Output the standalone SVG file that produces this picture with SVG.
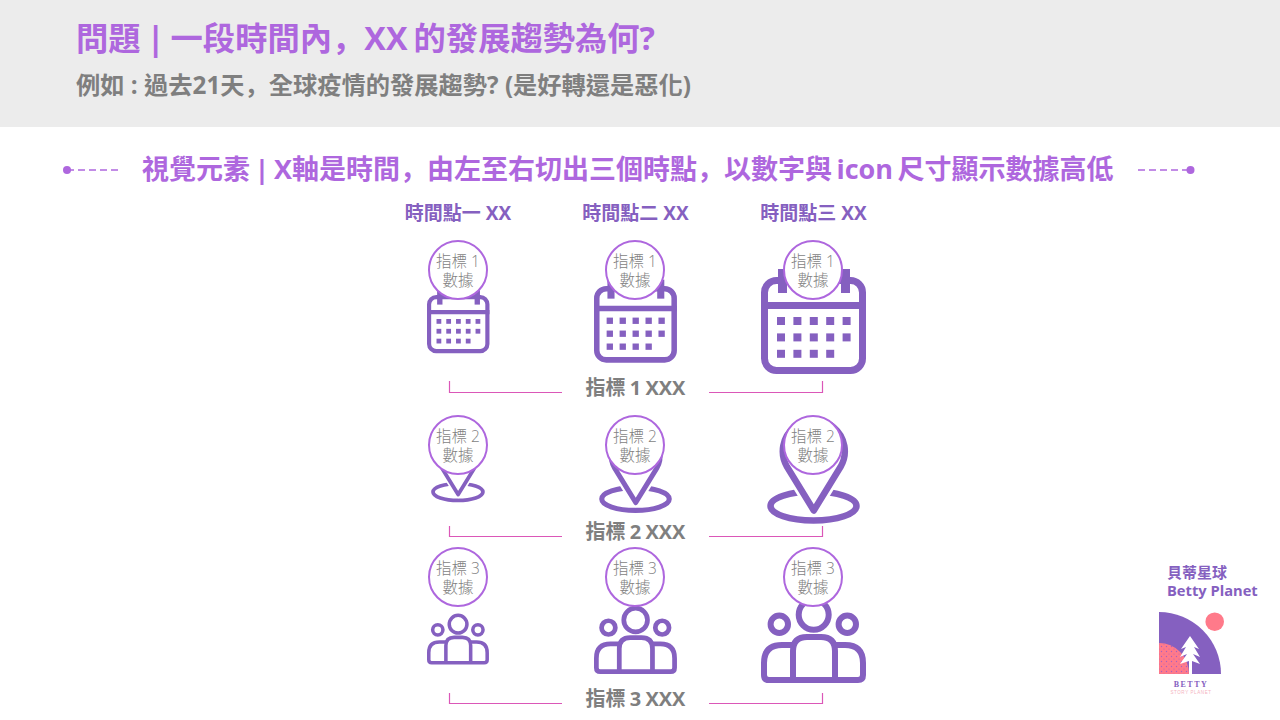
<svg xmlns="http://www.w3.org/2000/svg" width="1280" height="720" viewBox="0 0 1280 720">
<style>
text{font-family:"Open Sans","Noto Sans CJK TC",sans-serif}
.sc{font-family:"Noto Sans CJK SC",sans-serif}
.b{font-weight:700}
.tp{fill:#AE67DE}
.dp{fill:#8560C0}
.g{fill:#7F7F7F}
.hd{font-size:19px;font-weight:700;fill:#8560C0;text-anchor:middle}
.rl{font-size:20px;font-weight:700;fill:#7F7F7F;text-anchor:middle;word-spacing:-1px}
.cv{font-size:15.500px;font-weight:300;fill:#7F7F7F;text-anchor:middle}
.bub{fill:#fff;stroke:#AE67DE;stroke-width:2}
.ic{fill:none;stroke:#8560C0;stroke-width:7}
.sq{fill:#8560C0}
.br{fill:none;stroke:#DB57B8;stroke-width:1.2}
.dl{fill:none;stroke:#AE67DE;stroke-width:1.5;stroke-dasharray:7 4}
</style>
<defs>
<pattern id="dots" width="5" height="5" patternUnits="userSpaceOnUse"><circle cx="1.500" cy="1.500" r=".7" fill="#A85FC0"/><circle cx="4" cy="4" r=".5" fill="#A85FC0"/></pattern>
<g id="cal">
<rect x="3.500" y="3.500" width="98" height="90" rx="12" class="ic"/>
<path d="M0 28.500H105" class="ic"/>
<rect x="17" y="-8" width="9" height="24" class="sq"/><rect x="80" y="-8" width="9" height="24" class="sq"/>
<g class="sq">
<rect x="16" y="40" width="8" height="8"/><rect x="32.400" y="40" width="8" height="8"/><rect x="48.800" y="40" width="8" height="8"/><rect x="65.200" y="40" width="8" height="8"/><rect x="81.600" y="40" width="8" height="8"/>
<rect x="16" y="56.400" width="8" height="8"/><rect x="32.400" y="56.400" width="8" height="8"/><rect x="48.800" y="56.400" width="8" height="8"/><rect x="65.200" y="56.400" width="8" height="8"/><rect x="81.600" y="56.400" width="8" height="8"/>
<rect x="16" y="72.800" width="8" height="8"/><rect x="32.400" y="72.800" width="8" height="8"/><rect x="48.800" y="72.800" width="8" height="8"/><rect x="65.200" y="72.800" width="8" height="8"/>
</g>
</g>
<g id="pin">
<ellipse cx="46.500" cy="0" rx="43" ry="14.500" fill="none" stroke="#8560C0" stroke-width="6.500"/>
<path d="M46.800 4.500L20 -39.200A31 31 0 1 1 73.600 -39.200Z" fill="#fff" stroke="#fff" stroke-width="12" stroke-linejoin="round"/>
<path d="M46.800 4.500L20 -39.200A31 31 0 1 1 73.600 -39.200Z" fill="#fff" stroke="#8560C0" stroke-width="6.500" stroke-linejoin="round"/>
</g>
<g id="ppl" fill="none" stroke="#8560C0" stroke-width="6">
<circle cx="52.700" cy="-68.300" r="15"/>
<circle cx="18.300" cy="-58.700" r="8.700"/><circle cx="86.300" cy="-58.700" r="8.700"/>
<path d="M32 -38H21Q3 -38 3 -20V-8Q3 -3 8 -3H97Q102 -3 102 -8V-20Q102 -38 84 -38H74"/>
<path d="M32 -3V-32Q32 -46 46 -46H60Q74 -46 74 -32V-3"/>
</g>
</defs>

<rect id="banner" x="0" y="0" width="1280" height="127" fill="#ECECEC"/>
<text x="76" y="50" class="b tp" font-size="32.300" word-spacing="-2.300">問題 | 一段時間內<tspan class="sc">，</tspan>XX 的發展趨勢為何?</text>
<text x="76" y="94" class="b g" font-size="24.250">例如 : 過去21天<tspan class="sc">，</tspan>全球疫情的發展趨勢? (是好轉還是惡化)</text>
<text x="142" y="179" class="b tp" font-size="27" word-spacing="-2.500">視覺元素 | X軸是時間<tspan class="sc">，</tspan>由左至右切出三個時點<tspan class="sc">，</tspan>以數字與 icon 尺寸顯示數據高低</text>

<g id="connectors">
<path class="dl" d="M67 170H119"/><circle cx="67" cy="170" r="4" fill="#AE67DE"/>
<path class="dl" d="M1138 170H1190"/><circle cx="1190.500" cy="170" r="4" fill="#AE67DE"/>
<path class="br" d="M449.500 381V392.500H562"/><path class="br" d="M709 392.500H822.500V381"/>
<path class="br" d="M449.500 526V536.500H562"/><path class="br" d="M709 536.500H822.500V526"/>
<path class="br" d="M449.500 693V703.500H562"/><path class="br" d="M709 703.500H822.500V693"/>
</g>

<g id="headers">
<text x="458" y="220" class="hd">時間點一 XX</text>
<text x="635.500" y="220" class="hd">時間點二 XX</text>
<text x="813.500" y="220" class="hd">時間點三 XX</text>
</g>
<g id="rowlabels">
<text x="635.500" y="395" class="rl">指標 1 XXX</text>
<text x="635.500" y="539" class="rl">指標 2 XXX</text>
<text x="635.500" y="706" class="rl">指標 3 XXX</text>
</g>

<g id="cal1"><use href="#cal" transform="translate(427 295) scale(.595 .6)"/><circle cx="458" cy="270" r="29" class="bub"/><text x="458" y="267" class="cv">指標 1</text><text x="458" y="286" class="cv">數據</text></g>
<g id="cal2"><use href="#cal" transform="translate(594 286) scale(.79)"/><circle cx="635" cy="270" r="29" class="bub"/><text x="635" y="267" class="cv">指標 1</text><text x="635" y="286" class="cv">數據</text></g>
<g id="cal3"><use href="#cal" transform="translate(761 277)"/><circle cx="813" cy="270" r="29" class="bub"/><text x="813" y="267" class="cv">指標 1</text><text x="813" y="286" class="cv">數據</text></g>

<g id="pin1"><use href="#pin" transform="translate(431 492) scale(.58)"/><circle cx="458" cy="445" r="29" class="bub"/><text x="458" y="442" class="cv">指標 2</text><text x="458" y="461" class="cv">數據</text></g>
<g id="pin2"><use href="#pin" transform="translate(599 499) scale(.785)"/><circle cx="635" cy="445" r="29" class="bub"/><text x="635" y="442" class="cv">指標 2</text><text x="635" y="461" class="cv">數據</text></g>
<g id="pin3"><use href="#pin" transform="translate(767 506)"/><circle cx="813" cy="445" r="29" class="bub"/><text x="813" y="442" class="cv">指標 2</text><text x="813" y="461" class="cv">數據</text></g>

<g id="ppl1"><use href="#ppl" transform="translate(427 664.500) scale(.59)"/><circle cx="458" cy="577" r="29" class="bub"/><text x="458" y="574" class="cv">指標 3</text><text x="458" y="593" class="cv">數據</text></g>
<g id="ppl2"><use href="#ppl" transform="translate(594 674) scale(.79)"/><circle cx="635" cy="577" r="29" class="bub"/><text x="635" y="574" class="cv">指標 3</text><text x="635" y="593" class="cv">數據</text></g>
<g id="ppl3"><use href="#ppl" transform="translate(761 683)"/><circle cx="813" cy="577" r="29" class="bub"/><text x="813" y="574" class="cv">指標 3</text><text x="813" y="593" class="cv">數據</text></g>

<g id="logo">
<text x="1167" y="578" class="b dp" font-size="15">貝蒂星球</text>
<text x="1167" y="596" class="b dp" font-size="14.700">Betty Planet</text>
<path d="M1159 612A62 62 0 0 1 1221 674H1159Z" fill="#8560C0"/>
<path d="M1159 643A30 31 0 0 1 1189 674H1159Z" fill="#FF7A8A"/>
<path d="M1159 643A30 31 0 0 1 1189 674H1159Z" fill="url(#dots)"/>
<circle cx="1214.700" cy="621.700" r="9.300" fill="#FF7A8A"/>
<path d="M1190 636L1199 649L1194 647L1200 657L1193 654L1200 664L1192 661V674H1189V661L1180 664L1187 654L1180 657L1186 647L1181 649Z" fill="#fff"/>
<text x="1191" y="687" font-size="8" font-weight="700" fill="#8560C0" text-anchor="middle" letter-spacing="1.500" style="font-family:'Liberation Serif',serif">BETTY</text>
<text x="1191" y="694" font-size="4.500" fill="#F4B3C0" text-anchor="middle" letter-spacing=".6" style="font-family:'Liberation Sans',sans-serif">STORY PLANET</text>
</g>
</svg>
